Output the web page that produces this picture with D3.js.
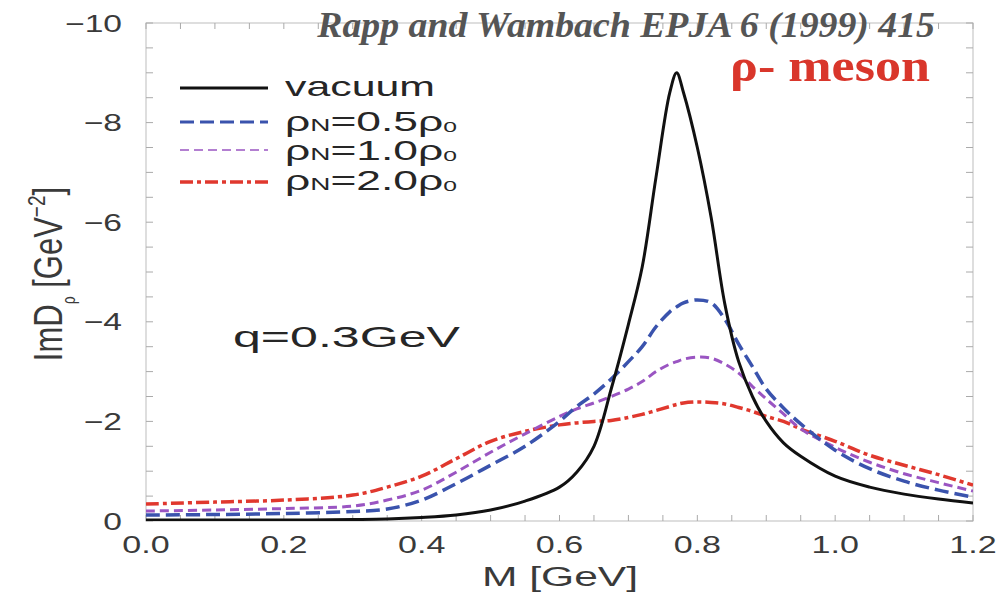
<!DOCTYPE html>
<meta charset="utf-8">
<style>
body { margin: 0; background: #fff; }
svg { display: block; }
.sans { font-family: "Liberation Sans", Arial, Helvetica, sans-serif; }
.serif { font-family: "Liberation Serif", "Times New Roman", serif; }
</style>
<svg width="1002" height="593"></svg>
<script src="https://cdn.jsdelivr.net/npm/d3@7"></script>
<script>

// invariant mass grid [GeV]
const massGeV = [0, 0.1, 0.2, 0.3, 0.35, 0.4, 0.45, 0.5, 0.55, 0.6, 0.625, 0.65, 0.675, 0.7, 0.72, 0.74,
  0.76, 0.77, 0.78, 0.8, 0.82, 0.84, 0.86, 0.88, 0.9, 0.925, 0.95, 1.0, 1.05, 1.1, 1.15, 1.2];

// ImD_rho [GeV^-2]
const vacuum = [-0.02, -0.02, -0.02, -0.03, -0.04, -0.07, -0.12, -0.22, -0.4, -0.68, -0.98, -1.5, -2.65, -3.95, -5.1, -6.9,
  -8.6, -9.0, -8.6, -7.5, -6.1, -4.35, -3.2, -2.5, -2.0, -1.57, -1.3, -0.9, -0.68, -0.54, -0.44, -0.36];
const rho05 = [-0.12, -0.13, -0.15, -0.19, -0.24, -0.42, -0.75, -1.12, -1.5, -2.0, -2.3, -2.55, -2.85, -3.2, -3.5, -3.9,
  -4.2, -4.3, -4.38, -4.44, -4.38, -4.05, -3.55, -3.1, -2.65, -2.27, -1.95, -1.42, -1.05, -0.8, -0.62, -0.48];
const rho10 = [-0.2, -0.22, -0.25, -0.3, -0.42, -0.62, -0.98, -1.38, -1.75, -2.1, -2.25, -2.37, -2.5, -2.65, -2.8, -3.0,
  -3.15, -3.2, -3.25, -3.29, -3.27, -3.15, -2.97, -2.7, -2.45, -2.15, -1.85, -1.48, -1.18, -0.95, -0.77, -0.6];
const rho20 = [-0.34, -0.38, -0.42, -0.52, -0.68, -0.9, -1.25, -1.6, -1.8, -1.93, -1.97, -2.0, -2.02, -2.08, -2.14, -2.22,
  -2.3, -2.34, -2.37, -2.39, -2.38, -2.35, -2.28, -2.2, -2.1, -2.0, -1.85, -1.6, -1.32, -1.12, -0.93, -0.72];

const xTicks = [0, 0.2, 0.4, 0.6, 0.8, 1.0, 1.2];
const xTickLabels = ["0.0", "0.2", "0.4", "0.6", "0.8", "1.0", "1.2"];
const yTicks = [0, -2, -4, -6, -8, -10];
const yTickLabels = ["0", "\u22122", "\u22124", "\u22126", "\u22128", "\u221210"];

const legendLabels = ["vacuum", "0.5", "1.0", "2.0"];

const series = [
  { name: "vacuum", values: vacuum, color: "#111111", width: 3, dash: null, legendWidth: 3 },
  { name: "0.5", values: rho05, color: "#3a53ad", width: 3.5, dash: "14,6", legendWidth: 3 },
  { name: "1.0", values: rho10, color: "#9a55c2", width: 3, dash: "9,5", legendWidth: 1.6 },
  { name: "2.0", values: rho20, color: "#e0382e", width: 3.5, dash: "13,4,4,4", legendWidth: 3.5 }
];

const svg = d3.select("svg");
const plotLeft = 146, plotRight = 973, plotTop = 23, plotBottom = 521;

const x = d3.scaleLinear().domain([0, 1.2]).range([plotLeft, plotRight]);
const y = d3.scaleLinear().domain([0, -10]).range([plotBottom, plotTop]);

// horizontally stretched text, like the scanned original
function stretched(parent, px, py, cls, size, anchor, fill) {
  return parent.append("text")
    .attr("class", cls)
    .attr("font-size", size)
    .attr("text-anchor", anchor)
    .attr("fill", fill)
    .attr("data-x", px)
    .attr("data-y", py);
}
function scaleBy(sel, sx, rot) {
  sel.attr("transform", "translate(" + sel.attr("data-x") + "," + sel.attr("data-y") + ") scale(" + sx + ",1)" + (rot ? " rotate(-90)" : ""));
}
function fitWidth(sel, w) {
  const bw = sel.node().getBBox().width;
  scaleBy(sel, w / bw);
}

// frame
svg.append("rect")
  .attr("x", plotLeft).attr("y", plotTop)
  .attr("width", plotRight - plotLeft).attr("height", plotBottom - plotTop)
  .attr("fill", "none").attr("stroke", "#bdbdbd").attr("stroke-width", 1);

// inner ticks on all four sides
const tickG = svg.append("g").attr("stroke", "#aaaaaa").attr("stroke-width", 1);
const xMinor = d3.range(0, 1.2001, 0.05);
const yMinor = d3.range(0, -10.001, -0.5);
xMinor.forEach(function(v) {
  tickG.append("line").attr("x1", x(v)).attr("x2", x(v)).attr("y1", plotBottom).attr("y2", plotBottom - 6);
  tickG.append("line").attr("x1", x(v)).attr("x2", x(v)).attr("y1", plotTop).attr("y2", plotTop + 6);
});
yMinor.forEach(function(v) {
  tickG.append("line").attr("x1", plotLeft).attr("x2", plotLeft + 7).attr("y1", y(v)).attr("y2", y(v));
  tickG.append("line").attr("x1", plotRight).attr("x2", plotRight - 7).attr("y1", y(v)).attr("y2", y(v));
});

// tick labels
xTicks.forEach(function(v, i) {
  const t = stretched(svg, x(v), 553, "sans", 24, "middle", "#3a3a3a").text(xTickLabels[i]);
  scaleBy(t, 1.42);
});
yTicks.forEach(function(v, i) {
  const t = stretched(svg, 122, y(v) + 8.5, "sans", 24, "end", "#3a3a3a").text(yTickLabels[i]);
  scaleBy(t, 1.4);
});

// axis titles
const xt = stretched(svg, 560, 586, "sans", 28, "middle", "#3a3a3a").text("M [GeV]");
fitWidth(xt, 156);

const yt = stretched(svg, 62, 274, "sans", 31, "middle", "#3a3a3a");
yt.append("tspan").text("ImD");
yt.append("tspan").attr("font-size", 14).attr("dy", 10).text("\u03c1");
yt.append("tspan").attr("dy", -10).text(" [GeV");
yt.append("tspan").attr("font-size", 19).attr("dy", -13).text("\u22122");
yt.append("tspan").attr("dy", 13).text("]");
scaleBy(yt, 1.3, true);

// curves
const line = d3.line()
  .x(function(d) { return x(d[0]); })
  .y(function(d) { return y(d[1]); })
  .curve(d3.curveCatmullRom.alpha(0.5));

svg.append("clipPath").attr("id", "plot")
  .append("rect").attr("x", plotLeft).attr("y", plotTop).attr("width", plotRight - plotLeft).attr("height", plotBottom - plotTop);

const curves = svg.append("g").attr("clip-path", "url(#plot)");
series.slice().reverse().forEach(function(s) {
  curves.append("path")
    .datum(massGeV.map(function(m, i) { return [m, s.values[i]]; }))
    .attr("fill", "none")
    .attr("stroke", s.color)
    .attr("stroke-width", s.width)
    .attr("stroke-dasharray", s.dash)
    .attr("stroke-linejoin", "round")
    .attr("d", line);
});

// legend
const legendLineY = [88, 122, 150, 182];
const legendTextY = [96, 131, 160, 190];
const legend = svg.append("g");
series.forEach(function(s, i) {
  legend.append("line")
    .attr("x1", 180).attr("x2", 268)
    .attr("y1", legendLineY[i]).attr("y2", legendLineY[i])
    .attr("stroke", s.color)
    .attr("stroke-width", s.legendWidth)
    .attr("stroke-dasharray", s.dash);
  const t = stretched(legend, 285, legendTextY[i], "sans", 27, "start", "#262626");
  if (i === 0) {
    t.text(legendLabels[i]);
    fitWidth(t, 150);
  } else {
    t.append("tspan").text("\u03c1");
    t.append("tspan").attr("font-size", 17).text("N");
    t.append("tspan").text("=" + legendLabels[i] + "\u03c1");
    t.append("tspan").attr("font-size", 15).attr("dy", 1).text("0");
    fitWidth(t, 172);
  }
});

// q label
const q = stretched(svg, 233, 347, "sans", 30, "start", "#262626").text("q=0.3GeV");
fitWidth(q, 227);

// reference and particle labels
const ref = stretched(svg, 935, 37, "serif", 36, "end", "#555555")
  .attr("font-weight", "bold").attr("font-style", "italic")
  .text("Rapp and Wambach EPJA 6 (1999) 415");
fitWidth(ref, 619);

const meson = stretched(svg, 930, 81, "serif", 46, "end", "#d9362b")
  .attr("font-weight", "bold")
  .text("\u03c1- meson");
fitWidth(meson, 200);

</script>
